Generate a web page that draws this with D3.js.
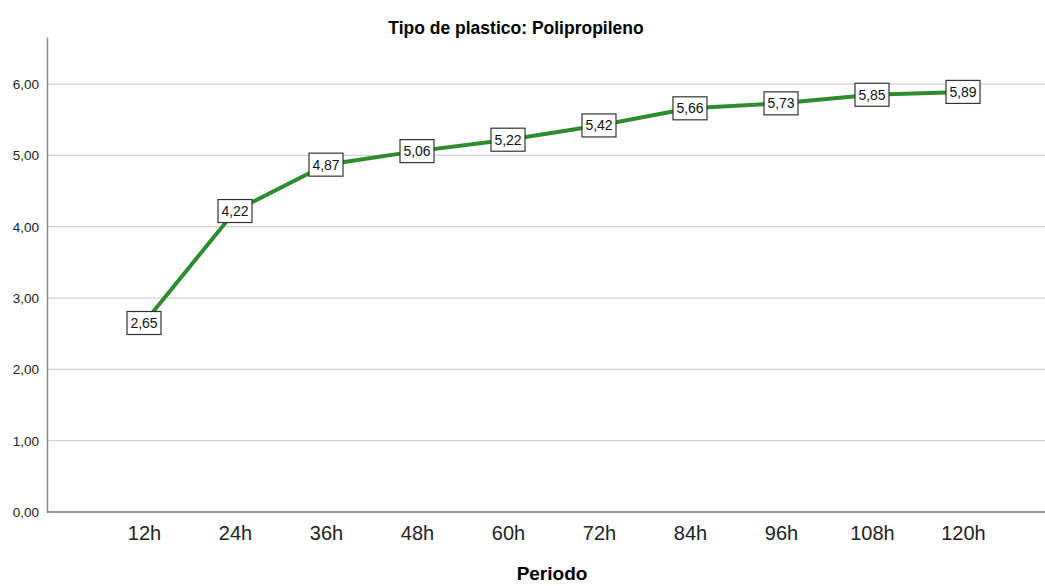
<!DOCTYPE html>
<html><head><meta charset="utf-8">
<script src="https://cdn.jsdelivr.net/npm/d3@7"></script>
<style>body{margin:0;background:#fff}svg{display:block}</style>
</head><body>
<script>
const categories = ["12h","24h","36h","48h","60h","72h","84h","96h","108h","120h"];
const values = [2.65,4.22,4.87,5.06,5.22,5.42,5.66,5.73,5.85,5.89];
const yTicks = [0,1,2,3,4,5,6];
const title = "Tipo de plastico: Polipropileno";
const xTitle = "Periodo";

const W=1045,H=586;
const svg=d3.select("body").append("svg").attr("width",W).attr("height",H);
const fmt=v=>d3.format(".2f")(v).replace(".",",");
const x=d3.scalePoint().domain(categories).range([144,963]);
const y=d3.scaleLinear().domain([0,6.66]).range([512,37]);
const font="'Liberation Sans', Arial, sans-serif";

// grid
svg.append("g").selectAll("line").data(yTicks.filter(d=>d>0)).join("line")
  .attr("x1",47).attr("x2",1045).attr("y1",d=>y(d)).attr("y2",d=>y(d))
  .attr("stroke","#d2d2d2").attr("stroke-width",1.3);

// y axis
const ya=svg.append("g").attr("transform","translate(47,0)")
  .call(d3.axisLeft(y).tickValues(yTicks).tickFormat(fmt).tickSize(0).tickPadding(8));
ya.select(".domain").attr("stroke","#8c8c8c").attr("stroke-width",1.5);
ya.selectAll("text").attr("font-family",font).attr("font-size",13.5).attr("fill","#222");

// x axis
const xa=svg.append("g").attr("transform","translate(0,512)")
  .call(d3.axisBottom(x).tickSize(0).tickPadding(14));
xa.select(".domain").attr("d","M47,0H1045").attr("stroke","#777").attr("stroke-width",1.3);
xa.selectAll("text").attr("font-family",font).attr("font-size",20).attr("fill","#222");

// line
svg.append("path").datum(values)
  .attr("d",d3.line().x((d,i)=>x(categories[i])).y(d=>y(d)))
  .attr("fill","none").attr("stroke","#2e8b2e").attr("stroke-width",4);

// labels
const lg=svg.append("g").selectAll("g").data(values).join("g")
  .attr("transform",(d,i)=>`translate(${x(categories[i])},${y(d)})`);
lg.append("rect").attr("x",-17).attr("y",-11.5).attr("width",34).attr("height",23)
  .attr("fill","#fff").attr("stroke","#333").attr("stroke-width",1.2);
lg.append("text").text(d=>fmt(d)).attr("text-anchor","middle").attr("dy","0.36em")
  .attr("font-family",font).attr("font-size",14).attr("fill","#111");

svg.append("text").attr("x",516).attr("y",34).attr("text-anchor","middle")
  .attr("font-family",font).attr("font-size",17.5).attr("font-weight","bold").text(title);
svg.append("text").attr("x",552).attr("y",580).attr("text-anchor","middle")
  .attr("font-family",font).attr("font-size",19).attr("font-weight","bold").text(xTitle);
</script>
</body></html>
